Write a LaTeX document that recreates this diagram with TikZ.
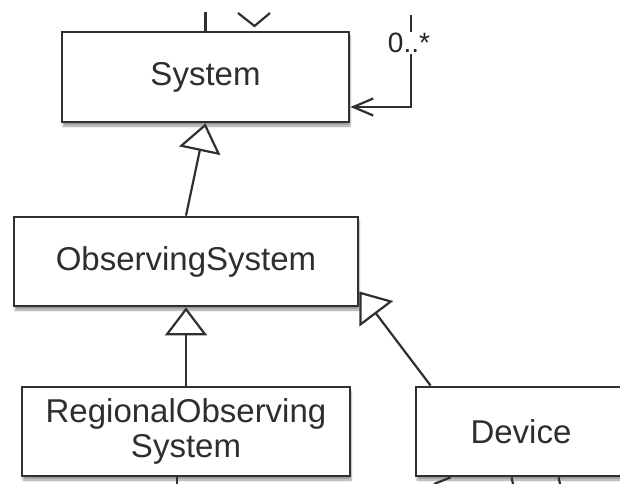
\documentclass[tikz,border=0pt]{standalone}
\usepackage{fontspec}
\setmainfont{Liberation Sans}
\usetikzlibrary{arrows.meta,shadows.blur}
\definecolor{ink}{HTML}{303030}
\begin{document}
\begin{tikzpicture}[x=1pt,y=-1pt,
  classbox/.style={draw=ink, line width=2.8pt, fill=white, inner sep=0pt,
    text=black!82, font=\fontsize{33}{35}\selectfont, align=center,
    blur shadow={shadow blur steps=6, shadow xshift=1pt, shadow yshift=-4pt, shadow opacity=40}},
  conn/.style={draw=ink, line width=2.2pt},
  gen/.style={conn, -{Triangle[open, length=28pt, width=42pt, line width=2.2pt]}},
  assoc/.style={conn, -{Straight Barb[length=20pt, width=17pt, line width=2.2pt]}},
  mult/.style={fill=white, inner sep=1pt, text=black!85, font=\fontsize{28}{30}\selectfont}]
\useasboundingbox (0,0) rectangle (620,483);

% classes
\node[classbox, minimum width=287pt, minimum height=90pt] (sys) at (205.5,77) {System};
\node[classbox, minimum width=344pt, minimum height=89pt] (obs) at (186,261.5) {ObservingSystem};
\node[classbox, minimum width=328pt, minimum height=89pt] (reg) at (186,431.5) {RegionalObserving\\System};
\node[classbox, minimum width=210pt, minimum height=89pt] (dev) at (521,431.5) {Device};

% generalisations
\draw[gen] (obs.north) -- (sys.south);
\draw[gen] (reg.north) -- (obs.south);
\draw[gen] ([xshift=16pt]dev.north west) -- ([yshift=-30pt]obs.east);

% reflexive association on System
\coordinate (loop) at (411,15);
\draw[assoc] (loop) |- ([yshift=-30pt]sys.east);
\node[mult] (m) at (409,43) {0..*};

% connectors leaving the visible area
\coordinate (upA) at (205.5,12);
\draw[conn] (upA) -- (sys.north);
\coordinate (vl) at (238,13);
\coordinate (vm) at (254.5,26);
\coordinate (vr) at (270,13);
\draw[conn] (vl) -- (vm) -- (vr);

\coordinate (r1) at (177,484);
\draw[conn] ([xshift=-9pt]reg.south) -- (r1);
\coordinate (d1) at (434,484);
\coordinate (d2) at (513,484);
\coordinate (d3) at (560,484);
\draw[conn] ([xshift=36pt]dev.south west) -- (d1);
\draw[conn] ([xshift=97pt]dev.south west) -- (d2);
\draw[conn] ([xshift=144pt]dev.south west) -- (d3);
\end{tikzpicture}
\end{document}
